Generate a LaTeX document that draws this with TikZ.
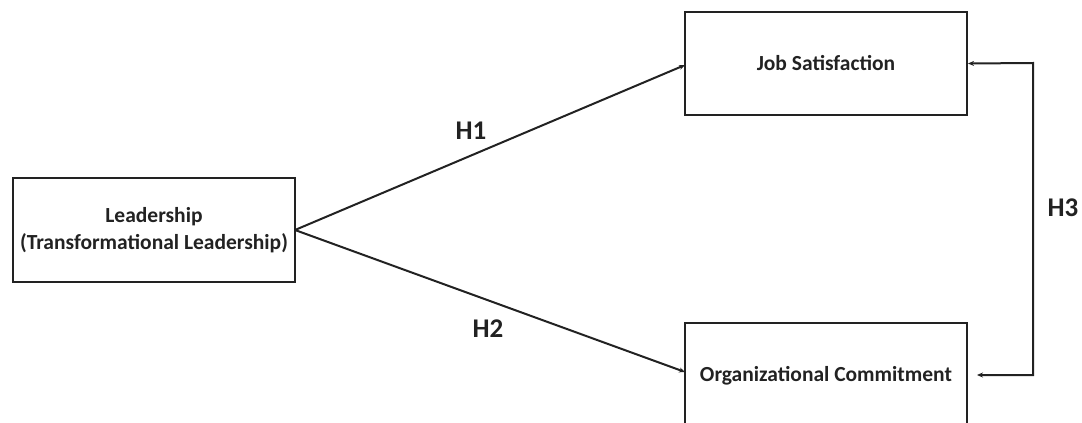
\documentclass[tikz,border=0pt]{standalone}
\usepackage{fontspec}
\setmainfont{Carlito}
\usetikzlibrary{arrows.meta}
\definecolor{ink}{HTML}{222222}
\begin{document}
\begin{tikzpicture}[x=1pt,y=-1pt,
  box/.style={draw=ink,line width=2pt,rectangle,inner sep=0pt,align=center,
    text=ink,font=\fontsize{21.5}{27}\selectfont\bfseries,minimum width=282pt},
  conn/.style={draw=ink,line width=2pt,-{Stealth[length=6pt,width=5pt]}},
  both/.style={draw=ink,line width=2pt,{Stealth[length=6pt,width=5pt]}-{Stealth[length=6pt,width=5pt]}},
  hlab/.style={text=ink,font=\fontsize{27}{32}\selectfont\bfseries,inner sep=0pt}]
\useasboundingbox (0,0) rectangle (1082,423);
\node[box,minimum height=104pt] (L) at (154,230) {Leadership\\(Transformational Leadership)};
\node[box,minimum height=103pt] (JS) at (826,63.5) {Job Satisfaction};
\node[box,minimum height=106pt] (OC) at (826,376) {Organizational Commitment};
\coordinate (Lout) at (295,230);
\coordinate (JSin) at (685,65);
\coordinate (OCin) at (685,372);
\coordinate (rt) at (1033,63);
\coordinate (rb) at (1033,375);
\coordinate (ocr) at (977,375);
\draw[conn] (Lout) -- (JSin);
\draw[conn] (Lout) -- (OCin);
\draw[both] (JS.east) -- (rt) -- (rb) -- (ocr);
\node[hlab] (h1) at (471,131) {H1};
\node[hlab] (h2) at (488,329) {H2};
\node[hlab] (h3) at (1063,208) {H3};
\end{tikzpicture}
\end{document}
